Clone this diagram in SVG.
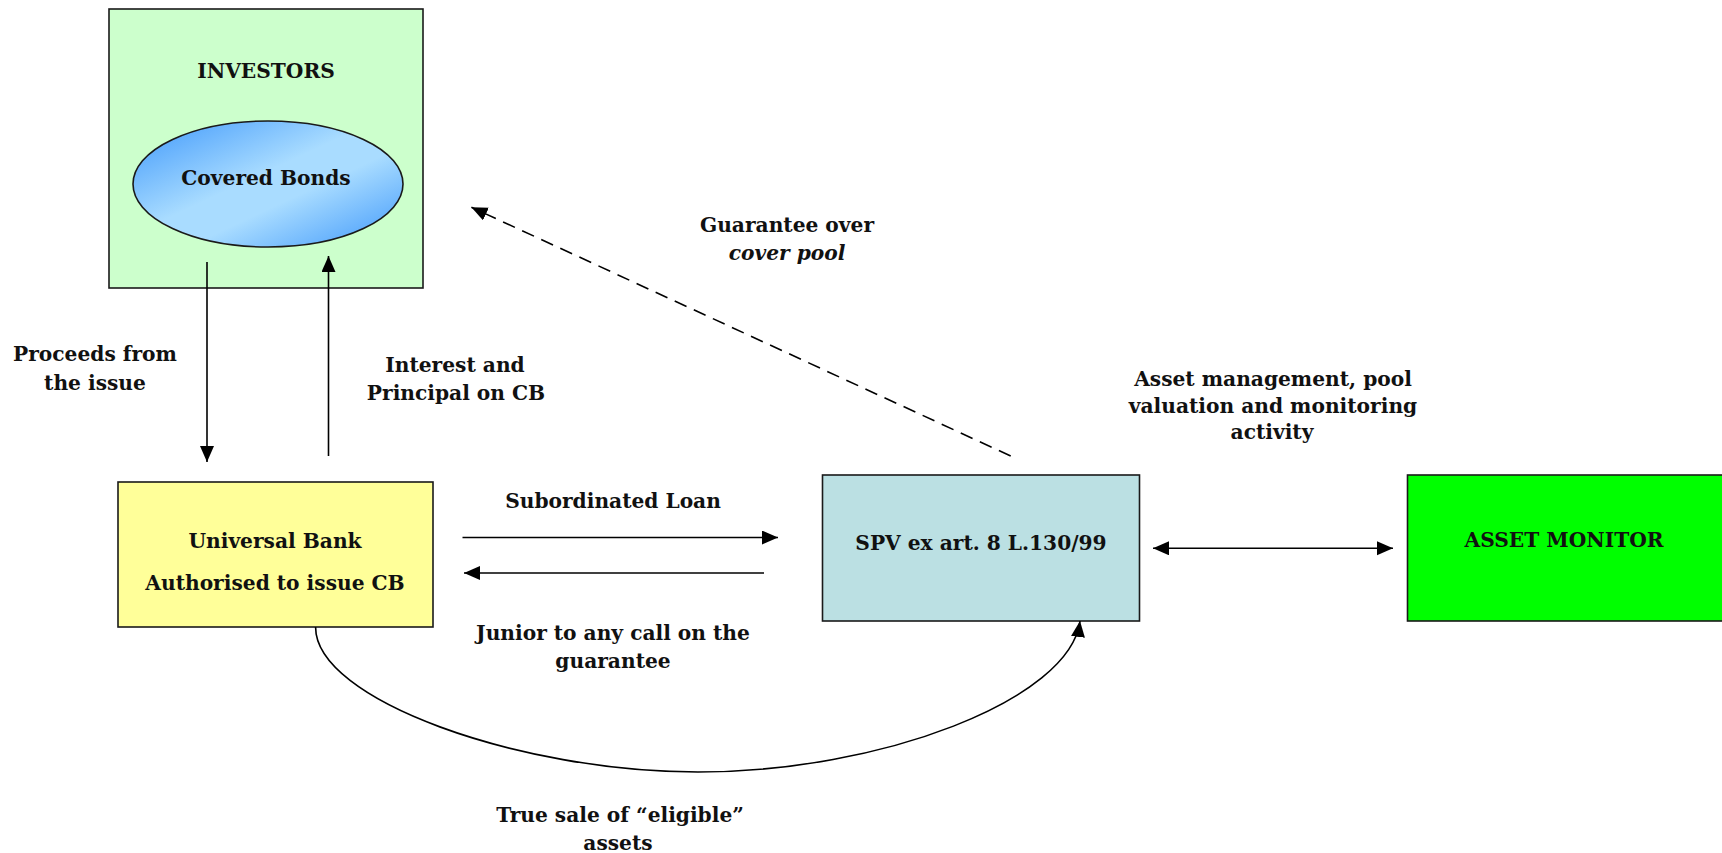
<svg xmlns="http://www.w3.org/2000/svg" width="1722" height="853" viewBox="0 0 1722 853">
  <style>
    .box { stroke: #1a1a1a; stroke-width: 1.6; }
    .lbl { font-family: "DejaVu Serif", "Liberation Serif", serif; font-weight: bold; font-size: 20.2px; fill: #111; text-anchor: middle; }
    .it { font-style: italic; }
    .wire { fill: none; stroke: #000; stroke-width: 1.6; }
    .dash { stroke-dasharray: 13 8; }
  </style>
  <defs>
    <marker id="head" markerUnits="userSpaceOnUse" markerWidth="17" markerHeight="15" refX="16" refY="7" orient="auto-start-reverse">
      <path d="M0,0 L16,7 L0,14 Z" fill="#000"/>
    </marker>
    <linearGradient id="bondFill" x1="0" y1="0" x2="1" y2="1">
      <stop offset="0" stop-color="#3d97fb"/>
      <stop offset="0.45" stop-color="#a9dcff"/>
      <stop offset="0.6" stop-color="#a9dcff"/>
      <stop offset="1" stop-color="#3d97fb"/>
    </linearGradient>
  </defs>

  <g id="investors">
    <rect class="box" x="109" y="9" width="314" height="279" fill="#ccffcc"/>
    <text class="lbl" x="266" y="78">INVESTORS</text>
  </g>

  <g id="covered-bonds">
    <ellipse class="box" cx="268" cy="184" rx="135" ry="63" fill="url(#bondFill)"/>
    <text class="lbl" x="266" y="185">Covered Bonds</text>
  </g>

  <g id="universal-bank">
    <rect class="box" x="118" y="482" width="315" height="145" fill="#ffff99"/>
    <text class="lbl" x="275" y="548">Universal Bank</text>
    <text class="lbl" x="275" y="590">Authorised to issue CB</text>
  </g>

  <g id="spv">
    <rect class="box" x="822.5" y="475" width="317" height="146" fill="#bbe0e3"/>
    <text class="lbl" x="981" y="550">SPV ex art. 8 L.130/99</text>
  </g>

  <g id="asset-monitor">
    <rect class="box" x="1407.5" y="475" width="320" height="146" fill="#00ff00"/>
    <text class="lbl" x="1564" y="547">ASSET MONITOR</text>
  </g>

  <g id="connectors">
    <!-- proceeds from the issue: investors to bank -->
    <line class="wire" x1="207" y1="262" x2="207" y2="462" marker-end="url(#head)"/>
    <!-- interest and principal: bank to investors -->
    <line class="wire" x1="328.5" y1="456" x2="328.5" y2="256" marker-end="url(#head)"/>
    <!-- subordinated loan -->
    <line class="wire" x1="462.5" y1="537.5" x2="778" y2="537.5" marker-end="url(#head)"/>
    <line class="wire" x1="764" y1="573" x2="464" y2="573" marker-end="url(#head)"/>
    <!-- SPV to asset monitor -->
    <line class="wire" x1="1153" y1="548.3" x2="1393" y2="548.3" stroke-width="2.2" marker-start="url(#head)" marker-end="url(#head)"/>
    <!-- guarantee over cover pool -->
    <line class="wire dash" x1="1010.7" y1="456" x2="471.4" y2="207.3" marker-end="url(#head)"/>
    <!-- true sale of eligible assets -->
    <path class="wire" d="M315.6,627 C315,700 520,772 698,772 C880,772 1070,700 1080,621" marker-end="url(#head)"/>
  </g>

  <g id="labels">
    <text class="lbl" x="95" y="361">Proceeds from</text>
    <text class="lbl" x="95" y="390">the issue</text>
    <text class="lbl" x="455" y="372">Interest and</text>
    <text class="lbl" x="456" y="400">Principal on CB</text>
    <text class="lbl" x="613" y="508">Subordinated Loan</text>
    <text class="lbl" x="613" y="640">Junior to any call on the</text>
    <text class="lbl" x="613" y="668">guarantee</text>
    <text class="lbl" x="787" y="232">Guarantee over</text>
    <text class="lbl it" x="787" y="260">cover pool</text>
    <text class="lbl" x="1273" y="386">Asset management, pool</text>
    <text class="lbl" x="1273" y="413">valuation and monitoring</text>
    <text class="lbl" x="1272" y="439">activity</text>
    <text class="lbl" x="620" y="822">True sale of “eligible”</text>
    <text class="lbl" x="618" y="850">assets</text>
  </g>
</svg>
